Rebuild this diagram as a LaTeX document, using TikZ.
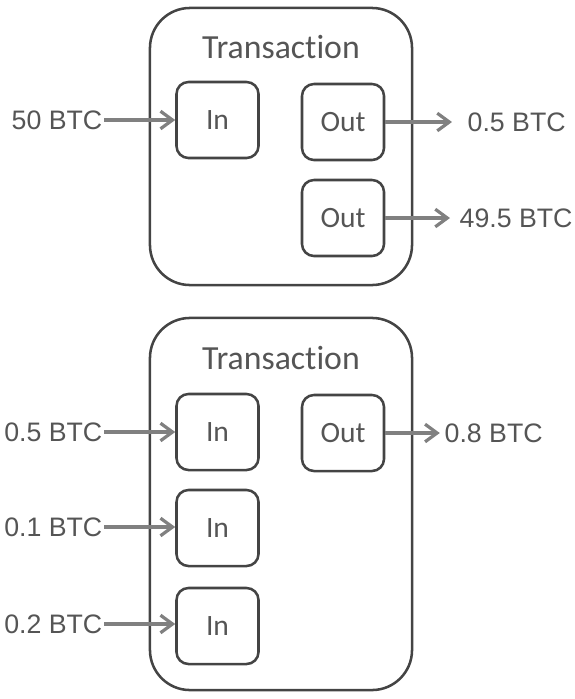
\documentclass[tikz,border=0pt]{standalone}
\usepackage{fontspec}
\setmainfont{Carlito}[RawFeature={-liga;-dlig;-clig;-calt;-hlig}]
\newfontfamily\labelfont{Liberation Sans}
\usetikzlibrary{arrows.meta,positioning}

\definecolor{boxgray}{HTML}{444444}
\definecolor{textgray}{HTML}{555555}
\definecolor{arrowgray}{HTML}{808080}

\begin{document}
\begin{tikzpicture}[x=0.025cm, y=-0.025cm,
    tx/.style={draw=boxgray, line width=1.8pt, rounded corners=1cm, minimum width=6.55cm},
    io/.style={draw=boxgray, line width=1.8pt, rounded corners=0.3cm, minimum width=2.05cm, minimum height=1.9cm, text=textgray, font=\fontsize{21}{24}\selectfont},
    title/.style={text=textgray, font=\fontsize{24}{28}\selectfont},
    amount/.style={text=textgray, inner sep=1pt, font=\labelfont\fontsize{19}{22}\selectfont},
    flow/.style={draw=arrowgray, line width=2.3pt, -{Straight Barb[length=3mm, width=4.4mm]}}]
    \useasboundingbox (0,0) rectangle (574,699);

    % Top transaction
    \node [tx, minimum height=6.925cm] (tx1) at (281,146.5) {};
    \node [title] (t1) at (281,47) {Transaction};
    \node [io] (in1)  at (217.5,120) {In};
    \node [io] (out1) at (343,122)   {Out};
    \node [io] (out2) at (343,218)   {Out};
    \node [amount, anchor=east] (a50)  at (104,120) {50 BTC};
    \node [amount, anchor=west] (a05)  at (466,122) {0.5 BTC};
    \node [amount, anchor=west] (a495) at (458,218) {49.5 BTC};

    % Bottom transaction
    \node [tx, minimum height=9.3cm] (tx2) at (281,504) {};
    \node [title] (t2) at (281,358) {Transaction};
    \node [io] (in2)  at (217.5,432) {In};
    \node [io] (in3)  at (217.5,528) {In};
    \node [io] (in4)  at (217.5,626) {In};
    \node [io] (out3) at (343,433)   {Out};
    \node [amount, anchor=east] (b05) at (104,432) {0.5 BTC};
    \node [amount, anchor=east] (b01) at (104,527) {0.1 BTC};
    \node [amount, anchor=east] (b02) at (104,624) {0.2 BTC};
    \node [amount, anchor=west] (b08) at (443,433) {0.8 BTC};

    % Paths
    \draw [flow] (a50.east) -- (in1.west);
    \draw [flow, shorten >=0.35cm] (out1.east) -- (a05.west);
    \draw [flow, shorten >=0.2cm]  (out2.east) -- (a495.west);
    \draw [flow] (b05.east) -- (b05.east -| in2.west);
    \draw [flow] (b01.east) -- (b01.east -| in3.west);
    \draw [flow] (b02.east) -- (b02.east -| in4.west);
    \draw [flow, shorten >=0.08cm] (out3.east) -- (b08.west);
\end{tikzpicture}
\end{document}
